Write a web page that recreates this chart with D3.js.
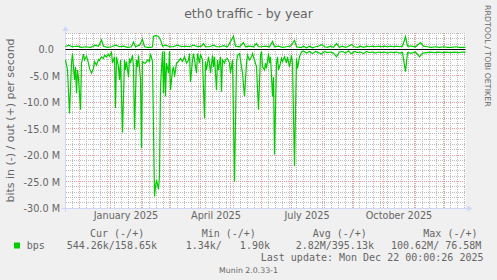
<!DOCTYPE html>
<html>
<head>
<meta charset="utf-8">
<script src="https://cdn.jsdelivr.net/npm/d3@7"></script>
<style>
html, body { margin: 0; padding: 0; background: #f0f0f0; }
svg { display: block; }
text { font-family: "DejaVu Sans", sans-serif; fill: #666666; }
.mono { font-family: "DejaVu Sans Mono", monospace; white-space: pre; }
</style>
</head>
<body>
<svg id="chart" width="497" height="280"></svg>
<script>
"use strict";

var title = "eth0 traffic - by year";
var yLabel = "bits in (-) / out (+) per second";
var startDate = new Date(2024, 10, 17, 0, 0, 26);
var endDate = new Date(2025, 11, 22, 0, 0, 26);

// in (-) series: days since startDate, Mbit/s
var inDays = [
    0, 2, 4, 6, 7, 9, 10, 11, 12, 13,
    15, 16, 18, 19, 21, 23, 24, 26, 28, 29,
    31, 33, 34, 36, 38, 39, 41, 43, 44, 46,
    47, 49, 50, 51, 53, 54, 55, 57, 59, 60,
    61, 63, 64, 65, 67, 68, 69, 71, 72, 73,
    75, 76, 77, 79, 80, 82, 84, 85, 87, 89,
    90, 91, 93, 94, 95, 97, 98, 99, 100, 101,
    103, 104, 105, 107, 108, 109, 111, 113, 115, 117,
    119, 121, 123, 124, 125, 127, 128, 129, 131, 132,
    134, 135, 137, 139, 140, 141, 143, 144, 145, 147,
    148, 149, 151, 152, 153, 155, 156, 157, 159, 160,
    162, 164, 165, 167, 169, 171, 172, 174, 176, 177,
    179, 181, 182, 184, 186, 187, 189, 191, 193, 195,
    196, 197, 199, 200, 201, 203, 204, 205, 207, 208,
    209, 211, 212, 213, 215, 216, 217, 219, 221, 222,
    224, 226, 227, 229, 231, 232, 234,
    236, 238, 241, 244, 247, 250, 253, 256, 259, 262,
    265, 268, 271, 274, 277, 280, 283, 286, 289, 292,
    295, 298, 301, 304, 307, 310, 313, 316, 319, 322,
    325, 328, 331, 334, 337, 340, 342, 346, 350, 354,
    357, 361, 365, 369, 373, 377, 381, 385, 389, 393,
    397, 400
];
var inMbps = [
    -2.0, -3.9, -12.1, -2.6, -0.8, -5.8, -3.3, -8.3, -3.9, -5.5,
    -11.4, -2.6, -0.9, -2.0, -1.3, -2.6, -3.6, -4.5, -3.6, -2.3,
    -3.0, -1.9, -2.1, -1.4, -1.7, -1.1, -1.4, -0.9, -1.3, -0.6,
    -2.6, -1.4, -11.1, -1.4, -3.3, -5.8, -2.0, -15.7, -2.0, -3.9,
    -2.3, -5.2, -1.7, -2.6, -1.1, -3.3, -15.2, -2.0, -3.3, -1.1,
    -5.8, -18.7, -2.3, -2.6, -2.6, -2.0, -2.3, -0.8, -2.3, -27.8,
    -25.9, -24.7, -26.5, -24.0, -7.0, -0.4, -8.3, -0.4, -8.9, -2.6,
    -4.5, -0.4, -7.7, -3.9, -3.3, -5.2, -2.6, -2.3, -1.7, -2.3,
    -1.4, -2.6, -2.0, -0.8, -6.1, -2.0, -0.8, -2.0, -4.5, -0.8,
    -2.6, -0.9, -2.0, -13.0, -2.3, -3.9, -1.4, -2.6, -4.5, -1.1,
    -3.3, -1.4, -7.7, -2.0, -3.9, -1.4, -8.0, -2.0, -2.6, -2.0,
    -1.7, -2.6, -4.5, -2.0, -25.0, -2.6, -1.1, -0.8, -3.3, -4.5,
    -8.9, -2.6, -1.1, -2.0, -1.4, -0.8, -2.0, -3.3, -11.4, -1.1,
    -0.4, -3.3, -3.9, -2.6, -3.6, -0.8, -2.6, -1.4, -8.9, -5.2,
    -19.9, -2.6, -1.4, -3.9, -2.6, -1.7, -2.3, -1.4, -2.6, -1.4,
    -3.3, -1.1, -2.6, -22.1, -1.7, -3.6, -1.4,
    -0.5, -0.3, -0.7, -0.4, -0.8, -0.4, -0.6, -0.9, -0.4, -0.6,
    -0.5, -0.7, -1.4, -0.5, -0.4, -0.7, -0.3, -0.8, -0.4, -0.6,
    -0.5, -0.8, -0.4, -0.6, -0.5, -0.7, -0.5, -0.6, -0.5, -0.7,
    -0.5, -0.6, -0.5, -0.7, -0.6, -4.2, -0.6, -0.7, -0.5, -1.4,
    -0.7, -0.6, -0.5, -0.6, -0.5, -0.6, -0.5, -0.6, -0.5, -0.6,
    -0.5, -0.5
];

// out (+) series
var outDays = [
    0, 3, 7, 12, 16, 20, 25, 30, 33, 36,
    38, 42, 46, 50, 54, 58, 62, 66, 68, 70,
    74, 77, 79, 82, 85, 87, 88, 90, 93, 95,
    97, 100, 104, 108, 112, 116, 120, 124, 128, 132,
    136, 138, 140, 144, 148, 151, 155, 158, 162, 166,
    168, 170, 174, 178, 180, 184, 188, 191, 193, 196,
    200, 204, 207, 209, 213, 217, 221, 225, 229, 231,
    234, 236, 238, 241, 244, 247, 250, 253, 256, 259,
    262, 265, 268, 271, 274, 277, 280, 283, 286, 289,
    292, 295, 298, 301, 304, 307, 310, 313, 316, 319,
    322, 325, 328, 331, 334, 337, 340, 342, 346, 350,
    355, 358, 362, 366, 370, 374, 378, 382, 386, 390,
    394, 398, 400
];
var outMbps = [
    0.5, 0.8, 0.5, 0.6, 0.4, 0.5, 0.4, 0.8, 0.6, 1.8,
    0.6, 0.4, 0.5, 0.8, 0.5, 0.6, 0.4, 0.5, 1.4, 0.5,
    0.8, 1.9, 0.5, 0.4, 0.4, 0.5, 2.5, 2.6, 2.5, 1.8,
    0.6, 0.8, 0.5, 0.5, 0.8, 0.5, 0.6, 0.5, 0.8, 0.5,
    0.6, 1.1, 0.5, 0.5, 0.8, 0.5, 0.5, 0.7, 0.5, 1.8,
    2.5, 0.6, 0.5, 1.3, 0.5, 0.6, 0.5, 1.1, 0.5, 0.5,
    0.6, 0.5, 1.5, 0.5, 0.6, 0.4, 0.5, 0.6, 1.7, 0.5,
    0.4, 0.4, 0.6, 0.3, 0.6, 0.3, 0.5, 0.6, 0.9, 0.5,
    0.4, 0.6, 0.4, 1.1, 0.4, 0.6, 0.4, 0.6, 0.9, 0.5,
    0.4, 0.6, 0.4, 0.6, 0.5, 0.6, 0.5, 0.6, 0.5, 0.6,
    0.5, 0.6, 0.5, 0.6, 0.5, 0.6, 2.4, 0.6, 0.6, 0.5,
    1.3, 0.6, 0.5, 0.4, 0.5, 0.4, 0.5, 0.4, 0.4, 0.5,
    0.4, 0.4, 0.4
];

var yTicks = [0, -5, -10, -15, -20, -25, -30];
var legendHeader = ["Cur (-/+)", "Min (-/+)", "Avg (-/+)", "Max (-/+)"];
var legendValues = ["544.26k/158.65k", "1.34k/   1.90k", "2.82M/395.13k", "100.62M/ 76.58M"];
var legendName = "bps";
var lastUpdate = "Last update: Mon Dec 22 00:00:26 2025";
var watermark = "Munin 2.0.33-1";
var sideText = "RRDTOOL / TOBI OETIKER";

var svg = d3.select("#chart");
var plotLeft = 65.5, plotTop = 33, plotW = 400, plotH = 175;

var x = d3.scaleTime().domain([startDate, endDate]).range([plotLeft, plotLeft + plotW]);
var y = d3.scaleLinear().domain([-30, 3.1]).range([plotTop + plotH, plotTop]);

function dayDate(d) {
    return new Date(startDate.getTime() + d * 864e5);
}
function px(v) {
    return Math.round(v - 0.5) + 0.5;
}

// canvas
svg.append("rect").attr("x", plotLeft).attr("y", plotTop)
    .attr("width", plotW).attr("height", plotH).attr("fill", "#ffffff");

// grid
var grid = svg.append("g").attr("shape-rendering", "crispEdges");
var minorY = d3.range(-30, 3.1, 1).filter(function (v) { return v % 5 !== 0; });
var majorY = d3.range(-30, 3.1, 5);
var weeks = d3.timeSunday.range(startDate, endDate);
var months = d3.timeMonth.range(startDate, endDate);
var minorCol = "#bdbdbd", majorCol = "#eb9c9c";

grid.selectAll(".gy").data(minorY).enter().append("line")
    .attr("x1", plotLeft).attr("x2", plotLeft + plotW)
    .attr("y1", function (d) { return px(y(d)); }).attr("y2", function (d) { return px(y(d)); })
    .attr("stroke", minorCol).attr("stroke-dasharray", "1,1");
grid.selectAll(".gx").data(weeks).enter().append("line")
    .attr("y1", plotTop).attr("y2", plotTop + plotH)
    .attr("x1", function (d) { return px(x(d)); }).attr("x2", function (d) { return px(x(d)); })
    .attr("stroke", minorCol).attr("stroke-dasharray", "1,1");
grid.selectAll(".my").data(majorY).enter().append("line")
    .attr("x1", plotLeft).attr("x2", plotLeft + plotW)
    .attr("y1", function (d) { return px(y(d)); }).attr("y2", function (d) { return px(y(d)); })
    .attr("stroke", majorCol).attr("stroke-dasharray", "1,1");
grid.selectAll(".mx").data(months).enter().append("line")
    .attr("y1", plotTop).attr("y2", plotTop + plotH)
    .attr("x1", function (d) { return px(x(d)); }).attr("x2", function (d) { return px(x(d)); })
    .attr("stroke", majorCol).attr("stroke-dasharray", "1,1");

// axes lines + arrows
var axisCol = "#cfd6f8";
var yBase = plotTop + plotH;
svg.append("line").attr("x1", plotLeft - 4).attr("x2", plotLeft + plotW + 4)
    .attr("y1", yBase + 0.5).attr("y2", yBase + 0.5)
    .attr("stroke", axisCol);
svg.append("line").attr("x1", plotLeft).attr("x2", plotLeft)
    .attr("y1", yBase + 4).attr("y2", plotTop - 4)
    .attr("stroke", axisCol);
svg.append("path").attr("fill", axisCol)
    .attr("d", "M" + (plotLeft + plotW + 2) + "," + (yBase - 2.5) + "L" + (plotLeft + plotW + 2) + "," + (yBase + 3.5) +
        "L" + (plotLeft + plotW + 7) + "," + (yBase + 0.5) + "Z");
svg.append("path").attr("fill", axisCol)
    .attr("d", "M" + (plotLeft - 3) + "," + (plotTop - 2) + "L" + (plotLeft + 3) + "," + (plotTop - 2) +
        "L" + plotLeft + "," + (plotTop - 7) + "Z");

// data lines
var line = d3.line()
    .x(function (d) { return x(dayDate(d[0])); })
    .y(function (d) { return y(d[1]); });
var inData = d3.zip(inDays, inMbps);
var outData = d3.zip(outDays, outMbps);
svg.append("path").datum(inData).attr("d", line)
    .attr("fill", "none").attr("stroke", "#00cc00").attr("stroke-width", 1.2);
svg.append("path").datum(outData).attr("d", line)
    .attr("fill", "none").attr("stroke", "#00cc00").attr("stroke-width", 1.2);

// zero rule
svg.append("line").attr("x1", plotLeft).attr("x2", plotLeft + plotW)
    .attr("y1", px(y(0))).attr("y2", px(y(0)))
    .attr("stroke", "#000000").attr("stroke-width", 1);

// y axis labels
var yAxis = d3.axisLeft(y).tickValues(yTicks).tickSize(0).tickPadding(0)
    .tickFormat(function (v) { return v === 0 ? "0.0\u00a0\u00a0" : v.toFixed(1) + " M"; });
var gY = svg.append("g").attr("transform", "translate(60,0.5)").call(yAxis);
gY.select(".domain").remove();
gY.selectAll("text").attr("font-family", "DejaVu Sans").attr("font-size", "9.7px").attr("fill", "#666666");

// x axis labels, centred mid-month like rrdtool
var labelMonths = d3.timeMonth.every(3).range(startDate, endDate);
var xAxis = d3.axisBottom(x)
    .tickValues(labelMonths.map(function (m) { return d3.timeDay.offset(m, 15); }))
    .tickSize(0).tickPadding(0)
    .tickFormat(function (d) { return d3.timeFormat("%B %Y")(d3.timeMonth.floor(d)); });
var gX = svg.append("g").attr("transform", "translate(0,212.6)").call(xAxis);
gX.select(".domain").remove();
gX.selectAll("text").attr("font-family", "DejaVu Sans").attr("font-size", "9.7px").attr("fill", "#666666");

// title
svg.append("text").attr("x", 248.5).attr("y", 18).attr("text-anchor", "middle")
    .attr("font-size", "12.5px").text(title);

// vertical unit label
svg.append("text").attr("transform", "translate(14,120.5) rotate(-90)")
    .attr("text-anchor", "middle").attr("font-size", "11px").text(yLabel);

// side watermark
svg.append("text").attr("transform", "translate(485,5) rotate(90)")
    .attr("font-size", "7.9px").attr("fill", "#cccccc").text(sideText);

// legend
var headerX = [90, 201.7, 312.7, 423.3];
var valueX = [66.7, 185.7, 295.7, 391];
svg.selectAll(".lh").data(legendHeader).enter().append("text")
    .attr("class", "mono").attr("font-size", "10px")
    .attr("x", function (d, i) { return headerX[i]; }).attr("y", 237)
    .text(function (d) { return d; });
svg.append("rect").attr("x", 14).attr("y", 242.5).attr("width", 6).attr("height", 6)
    .attr("fill", "#00cc00");
svg.append("text").attr("class", "mono").attr("font-size", "10px")
    .attr("x", 26.7).attr("y", 249).text(legendName);
svg.selectAll(".lv").data(legendValues).enter().append("text")
    .attr("class", "mono").attr("font-size", "10px")
    .attr("x", function (d, i) { return valueX[i]; }).attr("y", 249)
    .text(function (d) { return d; });
svg.append("text").attr("class", "mono").attr("font-size", "10px")
    .attr("x", 483.5).attr("y", 261).attr("text-anchor", "end").text(lastUpdate);
svg.append("text").attr("x", 248.5).attr("y", 272.5).attr("text-anchor", "middle")
    .attr("font-size", "7.8px").attr("fill", "#c4c4c4").text(watermark);
</script>
</body>
</html>
